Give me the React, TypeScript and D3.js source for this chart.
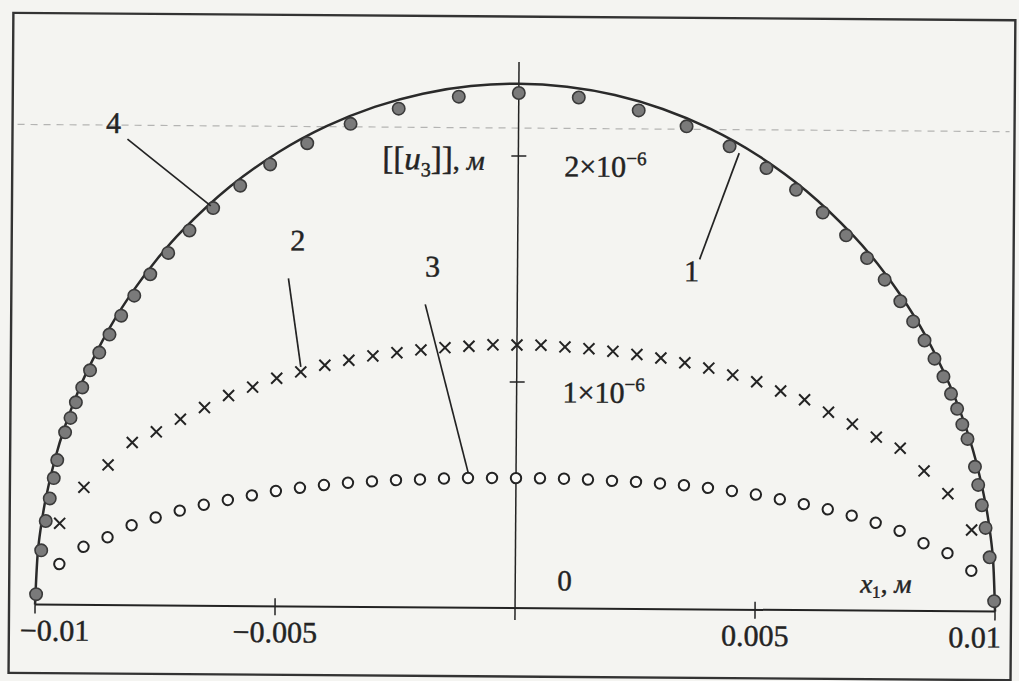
import React from "react";
import * as d3 from "d3";

const W = 1019;
const H = 681;

// Curve 4: analytical crack opening profile, x1 in m, [[u3]] in m
const curveX = [
  -0.01, -0.00995, -0.0099, -0.0098, -0.0096, -0.0094, -0.0092, -0.009, -0.0085, -0.008, -0.0075,
  -0.007, -0.006, -0.005, -0.004, -0.003, -0.002, -0.001, 0, 0.001, 0.002, 0.003, 0.004, 0.005,
  0.006, 0.007, 0.0075, 0.008, 0.0085, 0.009, 0.0092, 0.0094, 0.0096, 0.0098, 0.0099, 0.00995, 0.01,
];
const curveU = [
  0, 0.232e-6, 0.327e-6, 0.462e-6, 0.65e-6, 0.792e-6, 0.909e-6, 1.011e-6, 1.222e-6, 1.392e-6, 1.535e-6,
  1.657e-6, 1.856e-6, 2.009e-6, 2.126e-6, 2.213e-6, 2.273e-6, 2.308e-6, 2.32e-6, 2.308e-6, 2.273e-6,
  2.213e-6, 2.126e-6, 2.009e-6, 1.856e-6, 1.657e-6, 1.535e-6, 1.392e-6, 1.222e-6, 1.011e-6, 0.909e-6,
  0.792e-6, 0.65e-6, 0.462e-6, 0.327e-6, 0.232e-6, 0,
];

// Series 1: filled markers (refined mesh towards the crack tips)
const s1X = [
  -0.00998, -0.00988, -0.00979, -0.00971, -0.00963, -0.00956, -0.0094, -0.00929, -0.00918, -0.00905,
  -0.00889, -0.0087, -0.00849, -0.00825, -0.00798, -0.00765, -0.00728, -0.00684, -0.00635, -0.00579,
  -0.00517, -0.0044, -0.0035, -0.0025, -0.00125, 0, 0.00125, 0.0025, 0.0035, 0.0044, 0.00517, 0.00579,
  0.00635, 0.00684, 0.00728, 0.00765, 0.00798, 0.00825, 0.00849, 0.0087, 0.00889, 0.00905, 0.00918,
  0.00929, 0.0094, 0.00956, 0.00963, 0.00971, 0.00979, 0.00988, 0.00998,
];
const s1U = [
  0.046e-6, 0.24e-6, 0.37e-6, 0.47e-6, 0.56e-6, 0.64e-6, 0.763e-6, 0.827e-6, 0.896e-6, 0.962e-6,
  1.038e-6, 1.117e-6, 1.197e-6, 1.281e-6, 1.37e-6, 1.465e-6, 1.56e-6, 1.66e-6, 1.76e-6, 1.86e-6,
  1.955e-6, 2.05e-6, 2.137e-6, 2.206e-6, 2.261e-6, 2.279e-6, 2.261e-6, 2.206e-6, 2.137e-6, 2.05e-6,
  1.955e-6, 1.86e-6, 1.76e-6, 1.66e-6, 1.56e-6, 1.465e-6, 1.37e-6, 1.281e-6, 1.197e-6, 1.117e-6,
  1.038e-6, 0.962e-6, 0.896e-6, 0.827e-6, 0.763e-6, 0.64e-6, 0.56e-6, 0.47e-6, 0.37e-6, 0.24e-6, 0.046e-6,
];

// Series 2 (crosses) and 3 (open circles) share a uniform grid
const gridX = [
  -0.0095, -0.009, -0.0085, -0.008, -0.0075, -0.007, -0.0065, -0.006, -0.0055, -0.005, -0.0045, -0.004,
  -0.0035, -0.003, -0.0025, -0.002, -0.0015, -0.001, -0.0005, 0, 0.0005, 0.001, 0.0015, 0.002, 0.0025,
  0.003, 0.0035, 0.004, 0.0045, 0.005, 0.0055, 0.006, 0.0065, 0.007, 0.0075, 0.008, 0.0085, 0.009, 0.0095,
];
const s2U = [
  0.36e-6, 0.52e-6, 0.62e-6, 0.72e-6, 0.768e-6, 0.825e-6, 0.877e-6, 0.931e-6, 0.969e-6, 1.009e-6, 1.038e-6,
  1.068e-6, 1.091e-6, 1.111e-6, 1.126e-6, 1.139e-6, 1.15e-6, 1.157e-6, 1.164e-6, 1.164e-6, 1.164e-6,
  1.157e-6, 1.15e-6, 1.139e-6, 1.126e-6, 1.111e-6, 1.091e-6, 1.068e-6, 1.038e-6, 1.009e-6, 0.969e-6,
  0.931e-6, 0.877e-6, 0.825e-6, 0.768e-6, 0.72e-6, 0.62e-6, 0.52e-6, 0.36e-6,
];
const s3U = [
  0.18e-6, 0.257e-6, 0.3e-6, 0.354e-6, 0.389e-6, 0.42e-6, 0.447e-6, 0.469e-6, 0.49e-6, 0.51e-6, 0.525e-6,
  0.538e-6, 0.549e-6, 0.556e-6, 0.562e-6, 0.566e-6, 0.571e-6, 0.574e-6, 0.575e-6, 0.575e-6, 0.575e-6,
  0.574e-6, 0.571e-6, 0.566e-6, 0.562e-6, 0.556e-6, 0.549e-6, 0.538e-6, 0.525e-6, 0.51e-6, 0.49e-6,
  0.469e-6, 0.447e-6, 0.42e-6, 0.389e-6, 0.354e-6, 0.3e-6, 0.257e-6, 0.18e-6,
];

const xTicks = [-0.01, -0.005, 0.005, 0.01];
const xTickLabels = ["\u22120.01", "\u22120.005", "0.005", "0.01"];
const yTicks = [1e-6, 2e-6];
const yTickMantissa = ["1", "2"];

const curveLabels = ["1", "2", "3", "4"];

const SERIF = "'Liberation Serif', 'DejaVu Serif', serif";

export default function App() {
  const x = d3.scaleLinear().domain([-0.01, 0.01]).range([37, 997]);
  const y = d3.scaleLinear().domain([0, 2e-6]).range([608, 156]);

  const line = d3
    .line<number>()
    .x((_, i) => x(curveX[i]))
    .y((_, i) => y(curveU[i]))
    .curve(d3.curveCatmullRom.alpha(0.5));

  const ink = "#232323";
  const x0 = x(0);
  const yAxis0 = y(0);
  // printed text is slightly heavier than the plain font
  const textInk = { fill: ink, stroke: ink, strokeWidth: 0.45 };

  // label position, leader start, leader end on its series
  const leaders = [
    { t: curveLabels[0], lx: 691, ly: 280, from: [699, 258], to: [x(0.0046), y(2.02e-6)] },
    { t: curveLabels[1], lx: 297, ly: 252, from: [288, 280], to: [x(-0.0045), y(1.06e-6)] },
    { t: curveLabels[2], lx: 432, ly: 277, from: [425, 305], to: [x(-0.001), y(0.6e-6)] },
    { t: curveLabels[3], lx: 112, ly: 136, from: [126, 142], to: [x(-0.0064), y(1.77e-6)] },
  ];

  return (
    <svg width={W} height={H} style={{ display: "block", position: "absolute", left: 0, top: 0 }}>
      <rect x={0} y={0} width={W} height={H} fill="#f4f4f1" />
      <g transform={`rotate(0.42 509 340)`}>
        {/* frame */}
        <rect x={11} y={16.5} width={1002} height={660} fill="none" stroke="#333" strokeWidth={2.4} />
        {/* faint dashed rule across the top */}
        <line x1={16} x2={1008} y1={128} y2={128} stroke="#8a8a8a" strokeWidth={1.2} strokeDasharray="7 6" opacity={0.6} />

        {/* axes */}
        <line x1={x(-0.01)} x2={x(0.01)} y1={yAxis0} y2={yAxis0} stroke={ink} strokeWidth={2} />
        <line x1={x0} x2={x0} y1={62} y2={620} stroke={ink} strokeWidth={1.5} />
        {xTicks.map((t) => (
          <line key={t} x1={x(t)} x2={x(t)} y1={Math.abs(t) > 0.007 ? yAxis0 - 1 : yAxis0 - 8} y2={yAxis0 + 9} stroke={ink} strokeWidth={1.5} />
        ))}
        {yTicks.map((t) => (
          <line key={t} x1={x0 - 7} x2={x0 + 8} y1={y(t)} y2={y(t)} stroke={ink} strokeWidth={1.5} />
        ))}

        {/* tick labels */}
        {xTicks.map((t, i) => {
          const anchor = t === -0.01 ? "start" : t === 0.01 ? "end" : "middle";
          const px = t === -0.01 ? x(t) - 15 : t === 0.01 ? x(t) + 6 : x(t);
          return (
            <text key={t} x={px} y={644} textAnchor={anchor} fontFamily={SERIF} fontSize={30} {...textInk}>
              {xTickLabels[i]}
            </text>
          );
        })}
        {yTicks.map((t, i) => (
          <text key={t} x={x0 + 46} y={y(t) + 20} fontFamily={SERIF} fontSize={30} {...textInk}>
            {yTickMantissa[i]}×10
            <tspan dy={-12} fontSize={19}>−6</tspan>
          </text>
        ))}
        <text x={x0 + 42} y={590} fontFamily={SERIF} fontSize={29} {...textInk}>0</text>

        {/* axis titles */}
        <text x={381} y={170} fontFamily={SERIF} fontSize={33} {...textInk}>
          [[<tspan fontStyle="italic">u</tspan>
          <tspan dy={7} fontSize={20}>3</tspan>
          <tspan dy={-7}>]]</tspan>
          <tspan fontSize={28}>, </tspan>
          <tspan fontStyle="italic" fontSize={28}>м</tspan>
        </text>
        <text x={862} y={590} fontFamily={SERIF} fontSize={27} {...textInk}>
          <tspan fontStyle="italic">x</tspan>
          <tspan dy={5} fontSize={17}>1</tspan>
          <tspan dy={-5}>, </tspan>
          <tspan fontStyle="italic">м</tspan>
        </text>

        {/* curve 4 */}
        <path d={line(curveX) ?? ""} fill="none" stroke="#2a2a2a" strokeWidth={2.5} />

        {/* series 3: open circles */}
        {gridX.map((v, i) => (
          <circle key={`o${i}`} cx={x(v)} cy={y(s3U[i])} r={5.2} fill="#fafaf8" stroke={ink} strokeWidth={2} />
        ))}
        {/* series 2: crosses */}
        {gridX.map((v, i) => {
          const cx = x(v);
          const cy = y(s2U[i]);
          const s = 5.5;
          return (
            <path key={`x${i}`} d={`M${cx - s},${cy - s}L${cx + s},${cy + s}M${cx - s},${cy + s}L${cx + s},${cy - s}`} stroke={ink} strokeWidth={2} />
          );
        })}
        {/* series 1: filled markers */}
        {s1X.map((v, i) => (
          <circle key={`f${i}`} cx={x(v)} cy={y(s1U[i])} r={6.2} fill="#7a7a7a" stroke="#3a3a3a" strokeWidth={1.6} />
        ))}

        {/* curve labels and leaders */}
        {leaders.map((l) => (
          <g key={l.t}>
            <line x1={l.from[0]} y1={l.from[1]} x2={l.to[0]} y2={l.to[1]} stroke={ink} strokeWidth={1.7} />
            <text x={l.lx} y={l.ly} textAnchor="middle" fontFamily={SERIF} fontSize={30} {...textInk}>
              {l.t}
            </text>
          </g>
        ))}
      </g>
    </svg>
  );
}
